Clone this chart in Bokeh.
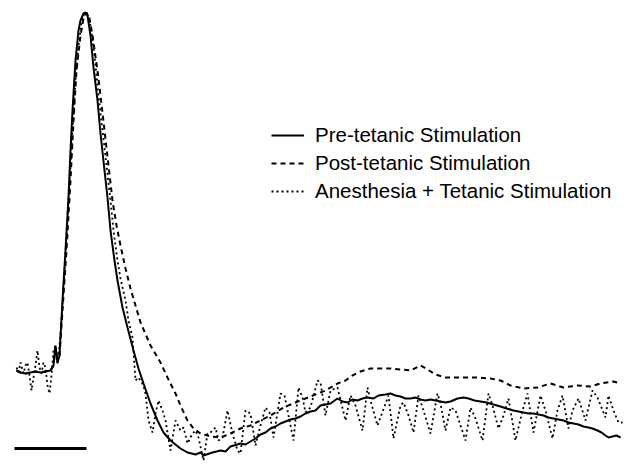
from bokeh.plotting import figure
from bokeh.models import Range1d, Legend, LegendItem
from bokeh.embed import file_html
from bokeh.resources import INLINE

# Evoked potential traces (time in samples, amplitude in arbitrary units, baseline = 0)
t_pre = [0, 4, 9, 14, 19, 24, 29, 34, 37, 39, 41, 43, 46, 49, 52, 54, 56, 59, 62, 64, 67, 69,
         71, 74, 77, 81, 84, 88, 91, 94, 98, 101, 106, 111, 117, 122, 127, 134, 141, 147, 154,
         164, 171, 179, 184, 187, 196, 204, 209, 214, 224, 229, 234, 239, 244, 249, 254, 259,
         264, 269, 274, 279, 284, 289, 294, 299, 304, 309, 314, 321, 326, 331, 336, 341, 346,
         351, 357, 362, 369, 374, 379, 384, 389, 394, 399, 404, 409, 414, 419, 424, 429, 434,
         441, 447, 452, 458, 464, 470, 477, 484, 490, 497, 502, 507, 512, 517, 522, 527, 532,
         537, 542, 547, 552, 557, 562, 567, 572, 576, 581, 585, 589, 592, 596, 600, 604]
v_pre = [0, -2, -3, -2, -1, -2, -1, 0, 5, 25, 8, 15, 70, 120, 173, 220, 260, 310, 340, 350, 357, 358,
         355, 335, 303, 270, 237, 200, 173, 140, 110, 90, 63, 43, 20, 2, -13, -33, -50, -62, -70,
         -78, -82, -84, -82, -85, -82, -80, -81, -76, -73, -74, -71, -68, -64, -62, -58, -56,
         -53, -51, -49, -48, -46, -43, -41, -40, -35, -34, -33, -28, -31, -32, -29, -30, -28,
         -27, -28, -25, -24, -23, -25, -26, -28, -28, -27, -29, -30, -29, -30, -31, -32, -31,
         -28, -27, -28, -30, -31, -32, -34, -36, -38, -40, -41, -42, -43, -43, -44, -45, -47,
         -48, -49, -50, -52, -53, -54, -56, -57, -58, -60, -62, -65, -67, -66, -65, -67]

t_post = [0, 4, 9, 14, 19, 24, 29, 34, 37, 39, 41, 43, 46, 50, 54, 57, 60, 64, 67, 70, 73, 76,
          81, 84, 88, 92, 96, 100, 104, 109, 114, 119, 124, 134, 144, 151, 159, 164, 171, 177,
          184, 194, 204, 214, 224, 234, 244, 254, 267, 279, 294, 309, 321, 329, 336, 344, 354,
          364, 374, 384, 394, 404, 411, 419, 429, 444, 459, 474, 484, 494, 507, 521, 534, 547,
          561, 574, 584, 597, 604]
v_post = [0, -2, -3, -2, -1, -2, -1, 0, 5, 23, 8, 15, 60, 120, 190, 250, 300, 335, 352, 358, 352, 335,
          300, 275, 240, 205, 170, 145, 125, 102, 82, 65, 48, 25, 8, -7, -23, -35, -50, -58,
          -63, -66, -67, -63, -58, -55, -50, -45, -37, -32, -26, -20, -13, -10, -5, -1, 2,
          2, 2, 1, 0, 5, 1, -4, -7, -7, -7, -8, -10, -15, -18, -17, -13, -17,
          -15, -16, -13, -11, -13]

t_anes = [0, 2, 4, 7, 9, 11, 13, 15, 17, 19, 21, 23, 25, 27, 29, 31, 33, 35, 37, 39, 41, 43,
          45, 48, 52, 56, 59, 62, 65, 68, 71, 74, 78, 82, 86, 90, 94, 97, 101, 104, 109, 112,
          116, 119, 122, 127, 129, 132, 136, 139, 142, 146, 149, 154, 159, 164, 167, 171, 176,
          179, 182, 187, 191, 194, 199, 202, 206, 211, 216, 221, 224, 229, 234, 239, 244, 249,
          253, 257, 264, 268, 271, 277, 282, 286, 289, 294, 301, 304, 309, 314, 321, 329, 334,
          339, 346, 351, 354, 361, 372, 377, 384, 387, 392, 397, 402, 407, 414, 421, 424, 429,
          434, 439, 449, 454, 459, 466, 472, 476, 482, 487, 492, 499, 506, 511, 517, 524, 529,
          536, 541, 546, 552, 556, 562, 569, 576, 581, 589, 592, 597, 602, 606]
v_anes = [3, -2, 8, -3, 5, 8, -5, -20, -7, 5, 20, 3, -3, 8, 3, -15, -23, -5, 20, 25, 7, 25,
          50, 100, 170, 240, 290, 325, 348, 357, 356, 345, 315, 275, 240, 205, 170, 140, 110, 92, 70, 50,
          33, -10, -7, -15, -23, -50, -62, -43, -30, -40, -50, -80, -50, -60, -57, -73, -63,
          -60, -67, -90, -63, -62, -57, -70, -67, -40, -63, -80, -83, -40, -43, -75, -55, -37,
          -42, -67, -23, -25, -40, -70, -17, -27, -42, -37, -10, -12, -45, -20, -17, -50, -25,
          -35, -60, -17, -30, -55, -25, -68, -35, -32, -45, -62, -25, -40, -63, -23, -33, -60,
          -37, -40, -70, -37, -48, -70, -23, -35, -58, -45, -28, -70, -40, -23, -62, -25, -40,
          -68, -40, -25, -58, -40, -28, -50, -20, -27, -47, -25, -40, -52, -52]

# Scale bar (start time, end time, level)
scale_t = [-2, 70]
scale_v = [-78, -78]

series_labels = ["Pre-tetanic Stimulation", "Post-tetanic Stimulation",
                 "Anesthesia + Tetanic Stimulation"]

p = figure(width=629, height=464, output_backend="svg", toolbar_location=None,
           x_range=Range1d(-16, 613), y_range=Range1d(-94, 370), min_border=0)
p.axis.visible = False
p.grid.visible = False
p.outline_line_color = None
p.background_fill_color = "white"
p.border_fill_color = "white"

r_pre = p.line(t_pre, v_pre, line_color="black", line_width=2)
r_post = p.line(t_post, v_post, line_color="black", line_width=2, line_dash="5 4")
r_anes = p.line(t_anes, v_anes, line_color="black", line_width=1.8, line_dash="2 3")
p.line(scale_t, scale_v, line_color="black", line_width=3)

legend = Legend(
    items=[LegendItem(label=series_labels[0], renderers=[r_pre]),
           LegendItem(label=series_labels[1], renderers=[r_post]),
           LegendItem(label=series_labels[2], renderers=[r_anes])],
    location=(271, 261), padding=0, margin=0, spacing=4,
    glyph_width=33, glyph_height=20, label_height=20, label_standoff=11,
    label_text_font="Liberation Sans", label_text_font_size="20.5px",
    label_text_color="black", border_line_color=None, background_fill_alpha=0,
)
p.add_layout(legend)

open("out.html", "w").write(file_html(p, INLINE))
